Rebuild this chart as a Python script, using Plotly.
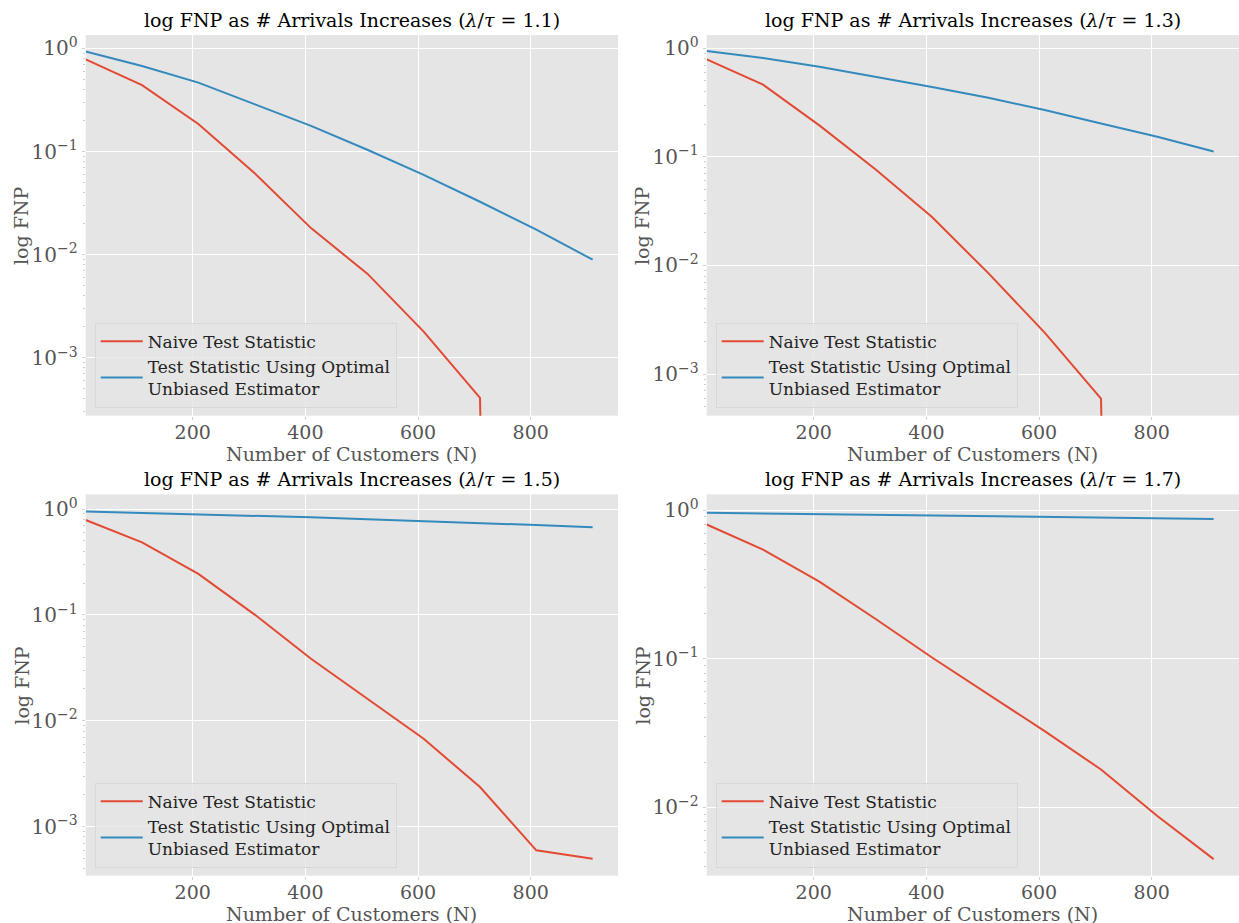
import numpy as np
import plotly.graph_objects as go

# ---- data ----
customers = [10, 110, 210, 310, 410, 510, 610, 710, 810, 910]
ratios = ["1.1", "1.3", "1.5", "1.7"]

naive_11 = [0.78, 0.44, 0.185, 0.0617, 0.0181, 0.00655, 0.0018, 0.00041, 0.0, 0.0]
optimal_11 = [0.93, 0.675, 0.465, 0.289, 0.177, 0.104, 0.0594, 0.0326, 0.0175, 0.00895]

naive_13 = [0.79, 0.462, 0.195, 0.0764, 0.0279, 0.0085, 0.00241, 0.000596, 0.0, 0.0]
optimal_13 = [0.945, 0.815, 0.677, 0.548, 0.44, 0.35, 0.27, 0.203, 0.153, 0.112]

naive_15 = [0.787, 0.485, 0.244, 0.1007, 0.0385, 0.0161, 0.00676, 0.00237, 0.000598, 0.000499]
optimal_15 = [0.95, 0.923, 0.897, 0.865, 0.834, 0.80, 0.77, 0.738, 0.706, 0.672]

naive_17 = [0.80, 0.542, 0.33, 0.185, 0.102, 0.0574, 0.0326, 0.0180, 0.00875, 0.00449]
optimal_17 = [0.96, 0.95, 0.94, 0.93, 0.92, 0.91, 0.90, 0.893, 0.884, 0.87]

naive_all = [naive_11, naive_13, naive_15, naive_17]
optimal_all = [optimal_11, optimal_13, optimal_15, optimal_17]

legend_names = ["Naive Test Statistic", "Test Statistic Using Optimal<br>Unbiased Estimator"]

# ---- layout geometry ----
W, H = 1239, 923
RED, BLUE = "#E24A33", "#348ABD"
FONT = "DejaVu Serif"
yranges = [[-3.56, 0.129], [-3.383, 0.122], [-3.463, 0.139], [-2.459, 0.106]]
xdom = [[85.7 / W, 618 / W], [706.7 / W, 1.0]]
ydom = [[1 - 415.7 / H, 1 - 35 / H], [1 - 875.7 / H, 1 - 494.3 / H]]


def clip_log(vals):
    # like matplotlib's nonpositive='clip' on a log axis
    a = np.array(vals, dtype=float)
    return np.where(a > 0, a, 1e-30)


fig = go.Figure()
annotations = []
for i in range(4):
    r, c = divmod(i, 2)
    ax = "" if i == 0 else str(i + 1)
    lg = "legend" if i == 0 else f"legend{i + 1}"
    fig.add_trace(go.Scatter(x=customers, y=clip_log(naive_all[i]), mode="lines",
                             line=dict(color=RED, width=2), name=legend_names[0],
                             xaxis="x" + ax, yaxis="y" + ax, legend=lg))
    fig.add_trace(go.Scatter(x=customers, y=clip_log(optimal_all[i]), mode="lines",
                             line=dict(color=BLUE, width=2), name=legend_names[1],
                             xaxis="x" + ax, yaxis="y" + ax, legend=lg))
    lo, hi = yranges[i]
    majors = [k for k in range(-6, 2) if lo <= k <= hi]
    minors = [m * 10.0 ** k for k in range(-6, 1) for m in range(2, 10)
              if lo <= np.log10(m * 10.0 ** k) <= hi]
    fig.update_layout(**{
        "xaxis" + ax: dict(domain=xdom[c], anchor="y" + ax, range=[10, 955],
                           tickvals=[200, 400, 600, 800], showgrid=True, gridcolor="white",
                           gridwidth=1, zeroline=False, showline=False, ticks="outside",
                           ticklen=3, tickcolor="#D0D0D0", ticklabelstandoff=-4,
                           tickfont=dict(family=FONT, size=19, color="#555555")),
        "yaxis" + ax: dict(domain=ydom[r], anchor="x" + ax, type="log", range=[lo, hi],
                           tickvals=[10.0 ** k for k in majors],
                           ticktext=[f"10<sup>{str(k).replace('-', '−')}</sup>" for k in majors],
                           showgrid=True, gridcolor="white", gridwidth=1, zeroline=False,
                           showline=False, ticks="outside", ticklen=3, tickcolor="#D0D0D0",
                           minor=dict(tickvals=minors, ticks="outside", ticklen=2,
                                      tickcolor="#CCCCCC", showgrid=False),
                           tickfont=dict(family=FONT, size=20, color="#555555")),
    })
    x0, x1 = xdom[c]
    y0, y1 = ydom[r]
    xc = (x0 + x1) / 2
    annotations.append(dict(text=f"log FNP as # Arrivals Increases (<i>λ</i>/<i>τ</i> = {ratios[i]})",
                            x=xc, y=y1 + 15 / H, xref="paper", yref="paper",
                            xanchor="center", yanchor="middle", showarrow=False,
                            font=dict(family=FONT, size=19, color="black")))
    annotations.append(dict(text="Number of Customers (N)", x=xc, y=y0 - 38 / H,
                            xref="paper", yref="paper", xanchor="center", yanchor="middle",
                            showarrow=False, font=dict(family=FONT, size=19, color="#555555")))
    annotations.append(dict(text="log FNP", x=x0 - 64 / W, y=(y0 + y1) / 2, textangle=-90,
                            xref="paper", yref="paper", xanchor="center", yanchor="middle",
                            showarrow=False, font=dict(family=FONT, size=19, color="#555555")))
    fig.update_layout(**{lg: dict(x=x0 + 9 / W, y=y0 + 8 / H, xanchor="left", yanchor="bottom",
                                  bgcolor="rgba(229,229,229,0.8)", bordercolor="#D8D8D8",
                                  borderwidth=1, itemwidth=42,
                                  font=dict(family=FONT, size=17, color="#222222"),
                                  tracegroupgap=0)})

fig.update_layout(width=W, height=H, margin=dict(l=0, r=0, t=0, b=0),
                  paper_bgcolor="white", plot_bgcolor="#E5E5E5",
                  annotations=annotations, showlegend=True)
fig.write_html("out.html", config={"displayModeBar": False},
               post_script="document.body.style.margin='0';document.body.style.padding='0';")
